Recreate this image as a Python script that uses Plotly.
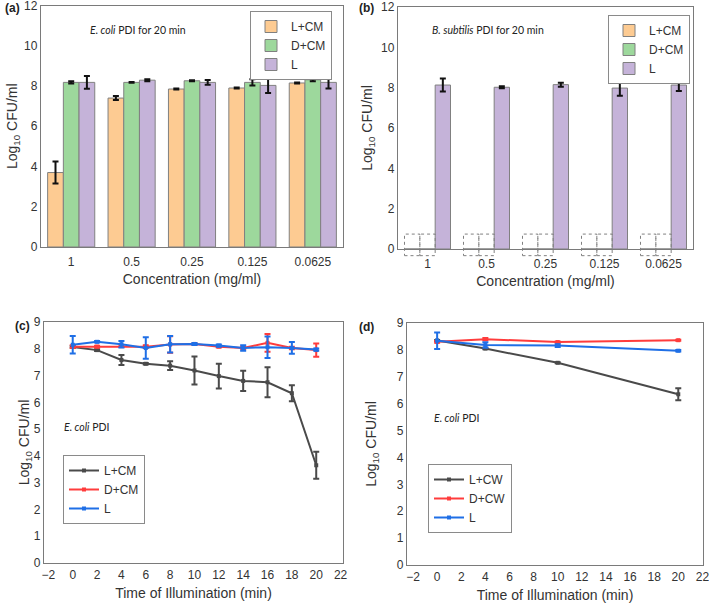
import plotly.graph_objects as go

# ---------------- data ----------------
conc = ["1", "0.5", "0.25", "0.125", "0.0625"]

ecoli_LCM = [3.70, 7.40, 7.85, 7.90, 8.15]
ecoli_LCM_err = [0.55, 0.10, 0.03, 0.02, 0.03]
ecoli_DCM = [8.18, 8.18, 8.26, 8.18, 8.31]
ecoli_DCM_err = [0.05, 0.02, 0.03, 0.15, 0.07]
ecoli_L = [8.18, 8.29, 8.18, 8.03, 8.18]
ecoli_L_err = [0.32, 0.05, 0.12, 0.38, 0.30]

bsub_LCM = [0, 0, 0, 0, 0]
bsub_DCM = [0, 0, 0, 0, 0]
bsub_L = [8.13, 8.02, 8.15, 7.98, 8.13]
bsub_L_err = [0.32, 0.05, 0.10, 0.38, 0.30]

time_c = [0, 2, 4, 6, 8, 10, 12, 14, 16, 18, 20]
c_LCM = [8.07, 7.95, 7.58, 7.44, 7.37, 7.19, 6.98, 6.80, 6.75, 6.34, 3.65]
c_LCM_err = [0.03, 0.03, 0.19, 0.03, 0.16, 0.52, 0.46, 0.38, 0.56, 0.30, 0.50]
c_DCM = [8.08, 8.08, 8.10, 8.08, 8.16, 8.18, 8.08, 8.03, 8.22, 8.03, 7.95]
c_DCM_err = [0.05, 0.03, 0.03, 0.05, 0.31, 0.03, 0.03, 0.05, 0.33, 0.05, 0.25]
c_L = [8.15, 8.26, 8.17, 8.03, 8.17, 8.18, 8.12, 8.03, 8.06, 8.03, 7.97]
c_L_err = [0.33, 0.03, 0.12, 0.40, 0.31, 0.04, 0.04, 0.10, 0.40, 0.22, 0.04]

time_d = [0, 4, 10, 20]
d_LCW = [8.35, 8.05, 7.52, 6.35]
d_LCW_err = [0.02, 0.03, 0.02, 0.22]
d_DCW = [8.30, 8.40, 8.29, 8.36]
d_DCW_err = [0.03, 0.04, 0.02, 0.02]
d_L = [8.34, 8.18, 8.16, 7.97]
d_L_err = [0.31, 0.10, 0.05, 0.03]

# ---------------- style ----------------
W, H = 709, 604
FONT = "Liberation Sans, Arial, sans-serif"
NOTE_FONT = "Lato, Open Sans, sans-serif"
ORANGE, GREEN, PURPLE = "#fdcb92", "#9dd89c", "#c5b3d9"
BLACK, RED, BLUE = "#4a4a4a", "#ff3c3c", "#1f6fe6"
FRAME = "#7a7a7a"
TXT = "#333333"
BARGAP = 0.22
BOX_BOTTOM, BOX_TOP = -0.33, 0.74


def xdom(p0, p1):
    return [p0 / W, p1 / W]


def ydom(top, bottom):
    return [1 - bottom / H, 1 - top / H]


fig = go.Figure()

idx = list(range(len(conc)))


def err(vals, color, thick=2, width=3):
    return dict(type="data", array=vals, visible=True, color=color,
                thickness=thick, width=width)


bar_line = dict(color="#808080", width=1)

# (a)
for name, vals, e, col in [("L+CM", ecoli_LCM, ecoli_LCM_err, ORANGE),
                           ("D+CM", ecoli_DCM, ecoli_DCM_err, GREEN),
                           ("L", ecoli_L, ecoli_L_err, PURPLE)]:
    fig.add_trace(go.Bar(x=idx, y=vals, name=name, marker=dict(color=col, line=bar_line),
                         error_y=err(e, "#111111"), xaxis="x", yaxis="y", legend="legend"))

# (b)
for name, vals, e, col in [("L+CM", bsub_LCM, None, ORANGE),
                           ("D+CM", bsub_DCM, None, GREEN),
                           ("L", bsub_L, bsub_L_err, PURPLE)]:
    fig.add_trace(go.Bar(x=idx, y=vals, name=name, marker=dict(color=col, line=bar_line),
                         error_y=err(e, "#111111") if e else None,
                         xaxis="x2", yaxis="y2", legend="legend2"))

# placeholder dotted boxes for zero-valued bars in (b)
w = (1 - BARGAP) / 3
bx, by = [], []
for k, series in enumerate([bsub_LCM, bsub_DCM]):
    for i, v in enumerate(series):
        if v == 0:
            c = i + (k - 1) * w
            l, r = c - w / 2, c + w / 2
            bx += [l, r, r, l, l, None]
            by += [BOX_BOTTOM, BOX_BOTTOM, BOX_TOP, BOX_TOP, BOX_BOTTOM, None]
fig.add_trace(go.Scatter(x=bx, y=by, mode="lines", showlegend=False, hoverinfo="skip",
                         line=dict(color="#808080", width=1, dash="dot"),
                         xaxis="x5", yaxis="y5"))

# (c)
for name, vals, e, col in [("L+CM", c_LCM, c_LCM_err, BLACK),
                           ("D+CM", c_DCM, c_DCM_err, RED),
                           ("L", c_L, c_L_err, BLUE)]:
    fig.add_trace(go.Scatter(x=time_c, y=vals, name=name, mode="lines+markers",
                             line=dict(color=col, width=2),
                             marker=dict(symbol="square", size=4, color=col),
                             error_y=err(e, col, 2, 3), xaxis="x3", yaxis="y3", legend="legend3"))

# (d)
for name, vals, e, col in [("L+CW", d_LCW, d_LCW_err, BLACK),
                           ("D+CW", d_DCW, d_DCW_err, RED),
                           ("L", d_L, d_L_err, BLUE)]:
    fig.add_trace(go.Scatter(x=time_d, y=vals, name=name, mode="lines+markers",
                             line=dict(color=col, width=2),
                             marker=dict(symbol="square", size=4, color=col),
                             error_y=err(e, col, 2, 3), xaxis="x4", yaxis="y4", legend="legend4"))

axis_common = dict(showline=True, mirror=True, linecolor=FRAME, linewidth=1.3,
                   showgrid=False, zeroline=False, ticks="", ticklabeloverflow="allow",
                   tickfont=dict(family=FONT, size=12, color=TXT))
title_font = dict(family=FONT, size=14, color=TXT)
ytitle = "Log<sub>10</sub> CFU/ml"

cat_x = dict(axis_common, tickmode="array", tickvals=idx, ticktext=conc,
             range=[-0.5, len(conc) - 0.5], ticklabelstandoff=3,
             title=dict(text="Concentration (mg/ml)", font=title_font, standoff=6))
time_x = dict(axis_common, tickmode="linear", tick0=-2, dtick=2,
              title=dict(text="Time of Illumination (min)", font=title_font, standoff=7))

fig.update_layout(
    width=W, height=H, margin=dict(l=0, r=0, t=0, b=0, autoexpand=False),
    paper_bgcolor="white", plot_bgcolor="rgba(0,0,0,0)",
    barmode="group", bargap=BARGAP, bargroupgap=0,
    font=dict(family=FONT, color=TXT),
    xaxis=dict(cat_x, domain=xdom(41, 343), anchor="y"),
    yaxis=dict(axis_common, domain=ydom(5.5, 247), anchor="x", range=[0, 12], dtick=2,
               title=dict(text=ytitle, font=title_font, standoff=3)),
    xaxis2=dict(cat_x, domain=xdom(398, 693), anchor="y2"),
    yaxis2=dict(axis_common, domain=ydom(7, 249), anchor="x2", range=[0, 12], dtick=2,
                title=dict(text=ytitle, font=title_font, standoff=5)),
    xaxis5=dict(domain=xdom(398, 693), anchor="y5", range=[-0.5, len(conc) - 0.5],
                visible=False, fixedrange=True),
    yaxis5=dict(domain=ydom(249 - 25, 249 + 10), anchor="x5",
                range=[-10 / ((249 - 7) / 12), 25 / ((249 - 7) / 12)],
                visible=False, fixedrange=True),
    xaxis3=dict(time_x, domain=xdom(44, 343), anchor="y3", range=[-2.36, 22.2]),
    yaxis3=dict(axis_common, domain=ydom(322, 563), anchor="x3", range=[0, 9], dtick=1,
                title=dict(text=ytitle, font=title_font, standoff=0)),
    xaxis4=dict(time_x, domain=xdom(407, 703), anchor="y4", range=[-2.5, 22.05]),
    yaxis4=dict(axis_common, domain=ydom(323, 565), anchor="x4", range=[0, 9], dtick=1,
                title=dict(text=ytitle, font=title_font, standoff=16)),
)

leg_common = dict(yanchor="top", bgcolor="white", bordercolor="#8a8a8a",
                  borderwidth=1, font=dict(family=FONT, size=12, color=TXT),
                  tracegroupgap=0, itemwidth=30)
fig.update_layout(
    legend=dict(leg_common, xanchor="right", x=332 / W, y=1 - 11 / H),
    legend2=dict(leg_common, xanchor="right", x=690 / W, y=1 - 15 / H),
    legend3=dict(leg_common, xanchor="left", x=63 / W, y=1 - 455 / H),
    legend4=dict(leg_common, xanchor="left", x=428 / W, y=1 - 464 / H),
)

notes = [
    ("<i>E. coli</i> PDI for 20 min", 88, 30),
    ("<i>B. subtilis</i> PDI for 20 min", 430, 30),
    ("<i>E. coli</i> PDI", 62, 427),
    ("<i>E. coli</i> PDI", 432, 418),
]
for txt, px, py in notes:
    fig.add_annotation(text=txt, x=px / W, y=1 - py / H, xref="paper", yref="paper",
                       xanchor="left", yanchor="middle", showarrow=False,
                       font=dict(family=NOTE_FONT, size=10.5, color="#222222"))

for lab, px, py in [("(a)", 3, 8), ("(b)", 357, 8), ("(c)", 13, 326), ("(d)", 357, 327)]:
    fig.add_annotation(text="<b>%s</b>" % lab, x=px / W, y=1 - py / H, xref="paper", yref="paper",
                       xanchor="left", yanchor="middle", showarrow=False,
                       font=dict(family=FONT, size=12, color="#222222"))

fig.write_html("out.html", config={"displayModeBar": False},
               post_script="document.body.style.margin='0';")
